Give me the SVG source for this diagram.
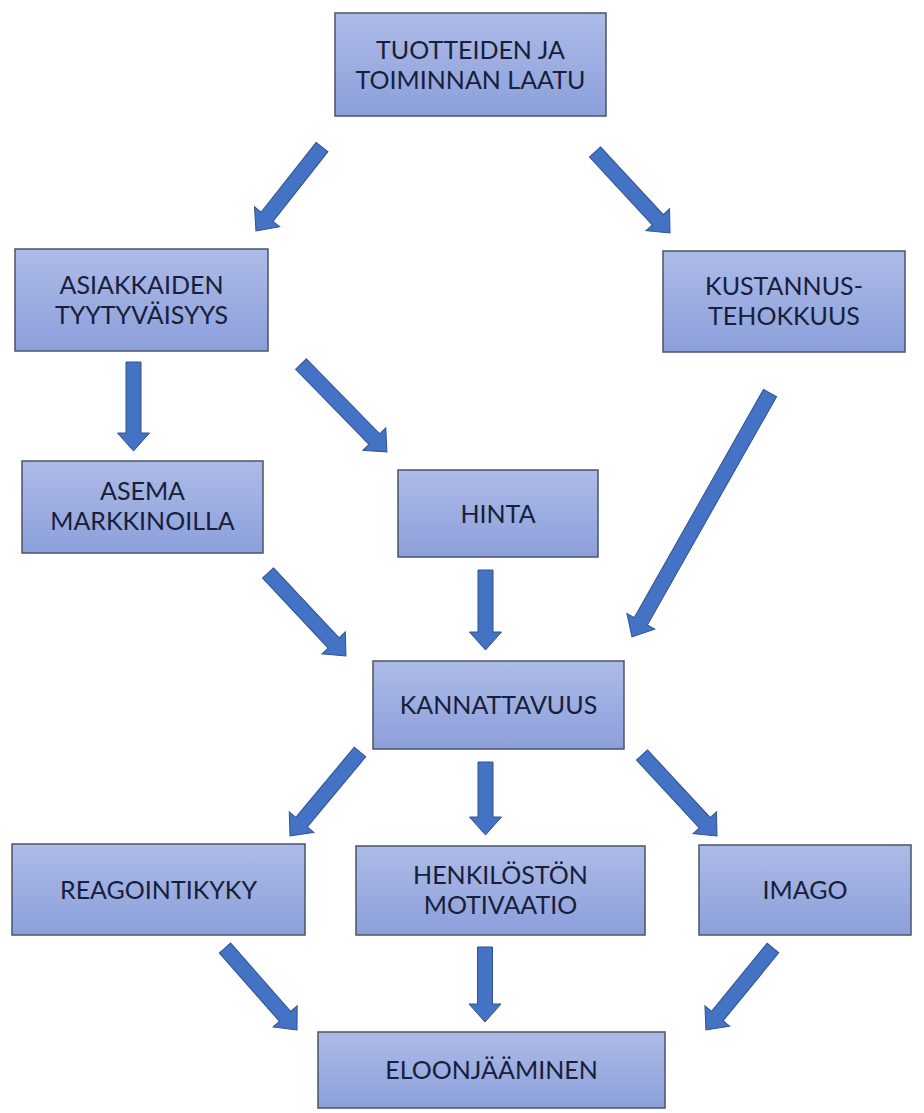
<svg xmlns="http://www.w3.org/2000/svg" width="924" height="1113" viewBox="0 0 924 1113">
<defs>
<linearGradient id="g" x1="0" y1="0" x2="0" y2="1">
<stop offset="0" stop-color="#adbbe7"/>
<stop offset="1" stop-color="#8c9fdb"/>
</linearGradient>
<style>
.box{fill:url(#g);stroke:#4a5468;stroke-width:1.5}
.t{font-family:Lato,"Open Sans",sans-serif;font-size:25px;fill:#17203a;text-anchor:middle}
.a{fill:#4472c4;stroke:#2f528f;stroke-width:1}
</style>
</defs>
<rect width="924" height="1113" fill="#ffffff"/>
<g id="connectors">
<path class="a" transform="translate(322,147) rotate(128.2)" d="M0,-7.5H88.8V-16L106.8,0L88.8,16V7.5H0Z"/>
<path class="a" transform="translate(595,152) rotate(47.2)" d="M0,-7.5H92.4V-16L110.4,0L92.4,16V7.5H0Z"/>
<path class="a" transform="translate(133.5,362) rotate(90)" d="M0,-7.5H71V-16L89,0L71,16V7.5H0Z"/>
<path class="a" transform="translate(301,364) rotate(45.7)" d="M0,-7.5H105V-16L123,0L105,16V7.5H0Z"/>
<path class="a" transform="translate(770,393) rotate(119.5)" d="M0,-7.5H262.3V-16L280.3,0L262.3,16V7.5H0Z"/>
<path class="a" transform="translate(268,573) rotate(46.8)" d="M0,-7.5H95.9V-16L113.9,0L95.9,16V7.5H0Z"/>
<path class="a" transform="translate(485.5,570) rotate(90)" d="M0,-7.5H62V-16L80,0L62,16V7.5H0Z"/>
<path class="a" transform="translate(360,752) rotate(129.8)" d="M0,-7.5H91.3V-16L109.3,0L91.3,16V7.5H0Z"/>
<path class="a" transform="translate(485.5,762) rotate(90)" d="M0,-7.5H55V-16L73,0L55,16V7.5H0Z"/>
<path class="a" transform="translate(642,755) rotate(47.2)" d="M0,-7.5H92.4V-16L110.4,0L92.4,16V7.5H0Z"/>
<path class="a" transform="translate(225,948) rotate(48.7)" d="M0,-7.5H91.1V-16L109.1,0L91.1,16V7.5H0Z"/>
<path class="a" transform="translate(485,947) rotate(90)" d="M0,-7.5H57V-16L75,0L57,16V7.5H0Z"/>
<path class="a" transform="translate(773,948) rotate(129.3)" d="M0,-7.5H87.9V-16L105.9,0L87.9,16V7.5H0Z"/>
</g>
<g id="laatu"><rect class="box" x="335" y="13" width="271" height="103"/><text class="t" x="470.5" y="58.5">TUOTTEIDEN JA</text><text class="t" x="470.5" y="88.5">TOIMINNAN LAATU</text></g>
<g id="asiakkaat"><rect class="box" x="15" y="249" width="253" height="102"/><text class="t" x="141.5" y="294">ASIAKKAIDEN</text><text class="t" x="141.5" y="324">TYYTYVÄISYYS</text></g>
<g id="kustannus"><rect class="box" x="663" y="251" width="242" height="101"/><text class="t" x="784" y="295">KUSTANNUS-</text><text class="t" x="784" y="325">TEHOKKUUS</text></g>
<g id="asema"><rect class="box" x="22" y="461" width="241" height="92"/><text class="t" x="142.5" y="500">ASEMA</text><text class="t" x="142.5" y="530">MARKKINOILLA</text></g>
<g id="hinta"><rect class="box" x="398" y="470" width="200" height="87"/><text class="t" x="498" y="522.5">HINTA</text></g>
<g id="kannattavuus"><rect class="box" x="373" y="661" width="251" height="88"/><text class="t" x="498.5" y="714">KANNATTAVUUS</text></g>
<g id="reagointikyky"><rect class="box" x="12" y="844" width="293" height="91"/><text class="t" x="158.5" y="898.5">REAGOINTIKYKY</text></g>
<g id="motivaatio"><rect class="box" x="356" y="846" width="289" height="89"/><text class="t" x="500.5" y="884">HENKILÖSTÖN</text><text class="t" x="500.5" y="914">MOTIVAATIO</text></g>
<g id="imago"><rect class="box" x="699" y="845" width="212" height="90"/><text class="t" x="805" y="899">IMAGO</text></g>
<g id="eloonjaaminen"><rect class="box" x="318" y="1032" width="347" height="76"/><text class="t" x="491.5" y="1079">ELOONJÄÄMINEN</text></g>
</svg>
